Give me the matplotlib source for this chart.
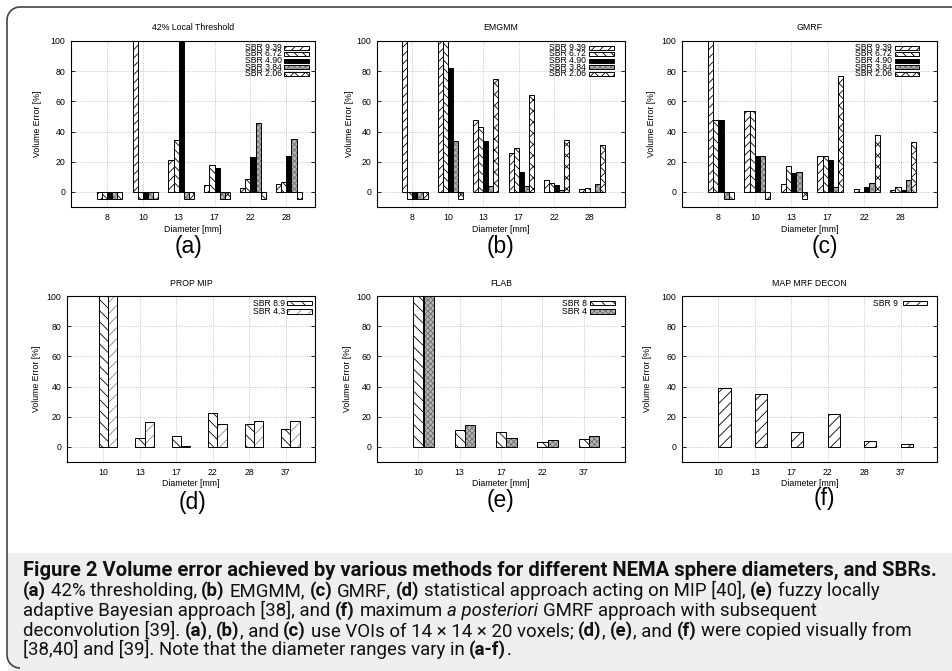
import matplotlib
matplotlib.use("Agg")
import matplotlib.pyplot as plt
from matplotlib.patches import Rectangle, Arc
from matplotlib import font_manager as fm
import numpy as np

# ---------------- data ----------------
diam_top = ["8", "10", "13", "17", "22", "28"]
sbr_top = ["SBR 9.39", "SBR 6.72", "SBR 4.90", "SBR 3.84", "SBR 2.06"]

thr_939 = [-5, 100, 21, 4.5, 2.5, 5.5]
thr_672 = [-5, -5, 34.5, 18, 8.5, 6.5]
thr_490 = [-5, -5, 100, 16, 23, 24]
thr_384 = [-5, -5, -5, -5, 45.5, 35]
thr_206 = [-5, -5, -5, -5, -5, -5]

em_939 = [100, 100, 47.5, 25.5, 8, 2]
em_672 = [-5, 100, 43, 29, 6, 2.5]
em_490 = [-5, 82, 34, 13.5, 4.5, 0]
em_384 = [-5, 34, 4, 4, 1, 5]
em_206 = [-5, -5, 75, 64.5, 34.5, 31]

gm_939 = [100, 53.5, 5, 24, 2, 1.5]
gm_672 = [47.5, 53.5, 17, 24, 0, 3]
gm_490 = [47.5, 23.5, 12.5, 21, 3, 1.5]
gm_384 = [-5, 23.5, 13.5, 3, 6, 8]
gm_206 = [-5, -5, -5, 77, 37.5, 33]

diam_d = ["10", "13", "17", "22", "28", "37"]
sbr_d = ["SBR 8.9", "SBR 4.3"]
pm_89 = [100, 6, 7.5, 22.5, 15.5, 12]
pm_43 = [100, 16.5, 0.3, 15, 17, 17.5]

diam_e = ["10", "13", "17", "22", "37"]
sbr_e = ["SBR 8", "SBR 4"]
fl_8 = [100, 11.5, 10, 3.5, 5.5]
fl_4 = [100, 14.3, 6.2, 4.4, 7.3]

diam_f = ["10", "13", "17", "22", "28", "37"]
sbr_f = ["SBR 9"]
mm_9 = [39, 35, 10, 22, 4, 2.2]

yticks = [0, 20, 40, 60, 80, 100]

# ---------------- setup ----------------
W, H = 952, 671
plt.rcParams["hatch.linewidth"] = 0.6
names = {f.name for f in fm.fontManager.ttflist}
CHART_FONT = "Liberation Sans" if "Liberation Sans" in names else "DejaVu Sans"
CAP_FONT = "DejaVu Sans"
for cand in ["Liberation Sans Narrow", "Roboto", "Noto Sans", "Open Sans"]:
    if cand in names:
        CAP_FONT = cand
        break
FS = 6.3
LFS = 6.2

fig = plt.figure(figsize=(W / 100, H / 100), dpi=100)
fig.patch.set_facecolor("white")

# background axes (pixel coordinates)
bg = fig.add_axes([0, 0, 1, 1], zorder=-5)
bg.set_xlim(0, W)
bg.set_ylim(H, 0)
bg.axis("off")
bg.add_patch(Rectangle((8, 553), W - 8, H - 553, facecolor="#efefef", edgecolor="none"))
r = 13
bg.plot([7 + r, W], [7, 7], color="#444444", lw=1.2, solid_capstyle="butt")
bg.plot([7, 7], [7 + r, H - 3 - r], color="#444444", lw=1.2, solid_capstyle="butt")
bg.add_patch(Arc((7 + r, 7 + r), 2 * r, 2 * r, theta1=180, theta2=270, color="#444444", lw=1.2))
bg.add_patch(Arc((7 + r, H - 3 - r), 2 * r, 2 * r, theta1=90, theta2=180, color="#444444", lw=1.2))

STYLES = {
    "fwd": dict(face="white", hatch="////", hc="black"),
    "back": dict(face="white", hatch="\\\\\\\\", hc="black"),
    "fwd3": dict(face="white", hatch="///", hc="black"),
    "back3": dict(face="white", hatch="\\\\\\", hc="black"),
    "fwdgray": dict(face="white", hatch="///", hc="#8a8a8a"),
    "solid": dict(face="black", hatch=None, hc="black"),
    "gray": dict(face="#b4b4b4", hatch="xxxxxx", hc="#6e6e6e"),
    "cross": dict(face="white", hatch="xxx", hc="black"),
}


def draw_sample(ax, x, y0, w, h, st):
    s = STYLES[st]
    ax.add_patch(Rectangle((x, y0), w, h, facecolor=s["face"], edgecolor=s["hc"],
                           hatch=s["hatch"], linewidth=0, zorder=6, clip_on=False,
                           transform=ax.transAxes))
    ax.add_patch(Rectangle((x, y0), w, h, fill=False, edgecolor="black", linewidth=0.7,
                           zorder=7, clip_on=False, transform=ax.transAxes))


def panel(px, title, cats, series, labels, styles, xlim, ylab_x, leg):
    x0, y0, x1, y1 = px
    ax = fig.add_axes([x0 / W, 1 - y1 / H, (x1 - x0) / W, (y1 - y0) / H])
    n = len(series)
    w = 1.0 / (n + 2)
    idx = np.arange(len(cats))
    for j, (vals, st) in enumerate(zip(series, styles)):
        xs = idx + (j - (n - 1) / 2 + 0.5) * w
        s = STYLES[st]
        ax.bar(xs, vals, width=w, color=s["face"], edgecolor=s["hc"], hatch=s["hatch"],
               linewidth=0, zorder=2)
        ax.bar(xs, vals, width=w, fill=False, edgecolor="black", linewidth=0.7, zorder=3)
    ax.set_xlim(*xlim)
    ax.set_ylim(-10, 100)
    ax.set_xticks(idx)
    ax.set_xticklabels(cats)
    ax.set_yticks(yticks)
    ax.grid(True, linestyle=(0, (1, 2)), color="#9a9a9a", linewidth=0.5, zorder=0)
    ax.set_axisbelow(True)
    ax.tick_params(axis="y", direction="in", length=3, width=0.6, right=True,
                   labelsize=FS, pad=4)
    ax.tick_params(axis="x", length=0, labelsize=FS, pad=4)
    for lab in ax.get_xticklabels() + ax.get_yticklabels():
        lab.set_fontfamily(CHART_FONT)
    for sp in ax.spines.values():
        sp.set_linewidth(0.8)
    hpx = y1 - y0
    wpx = x1 - x0
    ax.text(0.5, 1 + 13 / hpx, title, transform=ax.transAxes, ha="center", va="center",
            fontsize=FS, family=CHART_FONT)
    ax.set_xlabel("Diameter [mm]", fontsize=FS, family=CHART_FONT)
    ax.xaxis.set_label_coords(0.5, -22 / hpx)
    ax.xaxis.label.set_va("center")
    ax.set_ylabel("Volume Error [%]", fontsize=FS, family=CHART_FONT)
    ax.yaxis.set_label_coords((ylab_x - x0) / wpx, 0.5)
    ax.yaxis.label.set_va("center")
    # legend (gnuplot style: right aligned text, sample box right)
    tr, s0, s1, row0, dy, sh = leg
    for k, (lab, st) in enumerate(zip(labels, styles)):
        yc = row0 + k * dy
        ax.text((tr - x0) / wpx, 1 - (yc - y0) / hpx, lab, transform=ax.transAxes,
                ha="right", va="center", fontsize=LFS, family=CHART_FONT, zorder=5)
        draw_sample(ax, (s0 - x0) / wpx, 1 - (yc + sh / 2 - y0) / hpx, (s1 - s0) / wpx,
                    sh / hpx, st)
    return ax


st5 = ["fwd", "back", "solid", "gray", "cross"]
panel((71, 41, 315, 207), "42% Local Threshold", diam_top,
      [thr_939, thr_672, thr_490, thr_384, thr_206], sbr_top, st5, (-1, 5.8), 37,
      (282, 284, 309, 47.5, 6.5, 4))
panel((377, 41, 625, 207), "EMGMM", diam_top,
      [em_939, em_672, em_490, em_384, em_206], sbr_top, st5, (-1, 6), 349,
      (586, 589, 614, 47.5, 6.5, 4))
panel((682, 41, 937, 207), "GMRF", diam_top,
      [gm_939, gm_672, gm_490, gm_384, gm_206], sbr_top, st5, (-1, 6), 651,
      (892, 895, 919, 47.5, 6.5, 4))
panel((67, 296, 315, 462), "PROP MIP", diam_d, [pm_89, pm_43], sbr_d,
      ["back3", "fwdgray"], (-1, 5.8), 37, (285, 287, 312, 303, 8.3, 4.5))
panel((377, 296, 625, 462), "FLAB", diam_e, [fl_8, fl_4], sbr_e,
      ["back3", "gray"], (-1, 5), 347, (587, 590, 615, 303, 8.3, 4.5))
panel((682, 296, 937, 462), "MAP MRF DECON", diam_f, [mm_9], sbr_f,
      ["fwd3"], (-1, 6), 648, (898, 903, 927, 303, 8.3, 4.5))

# sub-figure letters
for lab, xc, yc in [("(a)", 189, 247), ("(b)", 500, 247), ("(c)", 825, 247),
                    ("(d)", 192, 502), ("(e)", 500, 501), ("(f)", 824, 498)]:
    fig.text(xc / W, 1 - yc / H, lab, ha="center", va="center", fontsize=16.5,
             family=CHART_FONT)

# ---------------- caption ----------------
cap_lines = [
    [("Figure 2 Volume error achieved by various methods for different NEMA sphere diameters, and SBRs.", "b")],
    [("(a)", "b"), (" 42% thresholding, ", "r"), ("(b)", "b"), (" EMGMM, ", "r"), ("(c)", "b"),
     (" GMRF, ", "r"), ("(d)", "b"), (" statistical approach acting on MIP [40], ", "r"),
     ("(e)", "b"), (" fuzzy locally", "r")],
    [("adaptive Bayesian approach [38], and ", "r"), ("(f)", "b"), (" maximum ", "r"),
     ("a posteriori", "i"), (" GMRF approach with subsequent", "r")],
    [("deconvolution [39]. ", "r"), ("(a)", "b"), (", ", "r"), ("(b)", "b"), (", and ", "r"),
     ("(c)", "b"), (" use VOIs of 14 \u00d7 14 \u00d7 20 voxels; ", "r"), ("(d)", "b"), (", ", "r"),
     ("(e)", "b"), (", and ", "r"), ("(f)", "b"), (" were copied visually from", "r")],
    [("[38,40] and [39]. Note that the diameter ranges vary in ", "r"), ("(a-f)", "b"), (".", "r")],
]
cap_base = [576, 596, 616, 636, 655]
cap_right = [936, 852, 738, 938, 552]
CAP_X = 23.0

renderer = fig.canvas.get_renderer()


def props(style, size):
    return dict(fontsize=size, family=CAP_FONT,
                fontweight="bold" if style == "b" else "normal",
                fontstyle="italic" if style == "i" else "normal")


def layout(line, size, yb=None):
    sp = {}
    for st in "rbi":
        a = fig.text(0, 0, "a a", **props(st, size))
        b = fig.text(0, 0, "aa", **props(st, size))
        sp[st] = a.get_window_extent(renderer).width - b.get_window_extent(renderer).width
        a.remove()
        b.remove()
    x = CAP_X
    for txt, st in line:
        lead = len(txt) - len(txt.lstrip(" "))
        trail = len(txt) - len(txt.rstrip(" "))
        core = txt.strip(" ")
        x += lead * sp[st]
        if core:
            t = fig.text(x / W, 1 - (yb if yb is not None else 0) / H, core, ha="left",
                         va="baseline", color="#111111", **props(st, size))
            x += t.get_window_extent(renderer).width
            if yb is None:
                t.remove()
        x += trail * sp[st]
    return x - CAP_X


nat = [layout(line, 12) for line in cap_lines]
fit = [12 * (rr - CAP_X) / n for n, rr in zip(nat, cap_right)]
size_body = float(np.mean(fit[1:]))
# keep every body line inside the figure
size_body = min(size_body, min(12 * (W - 14 - CAP_X) / n for n in nat[1:]))
sizes = [fit[0]] + [size_body] * 4

for line, yb, sz in zip(cap_lines, cap_base, sizes):
    layout(line, sz, yb)

fig.savefig("out.png", dpi=100, facecolor="white")
